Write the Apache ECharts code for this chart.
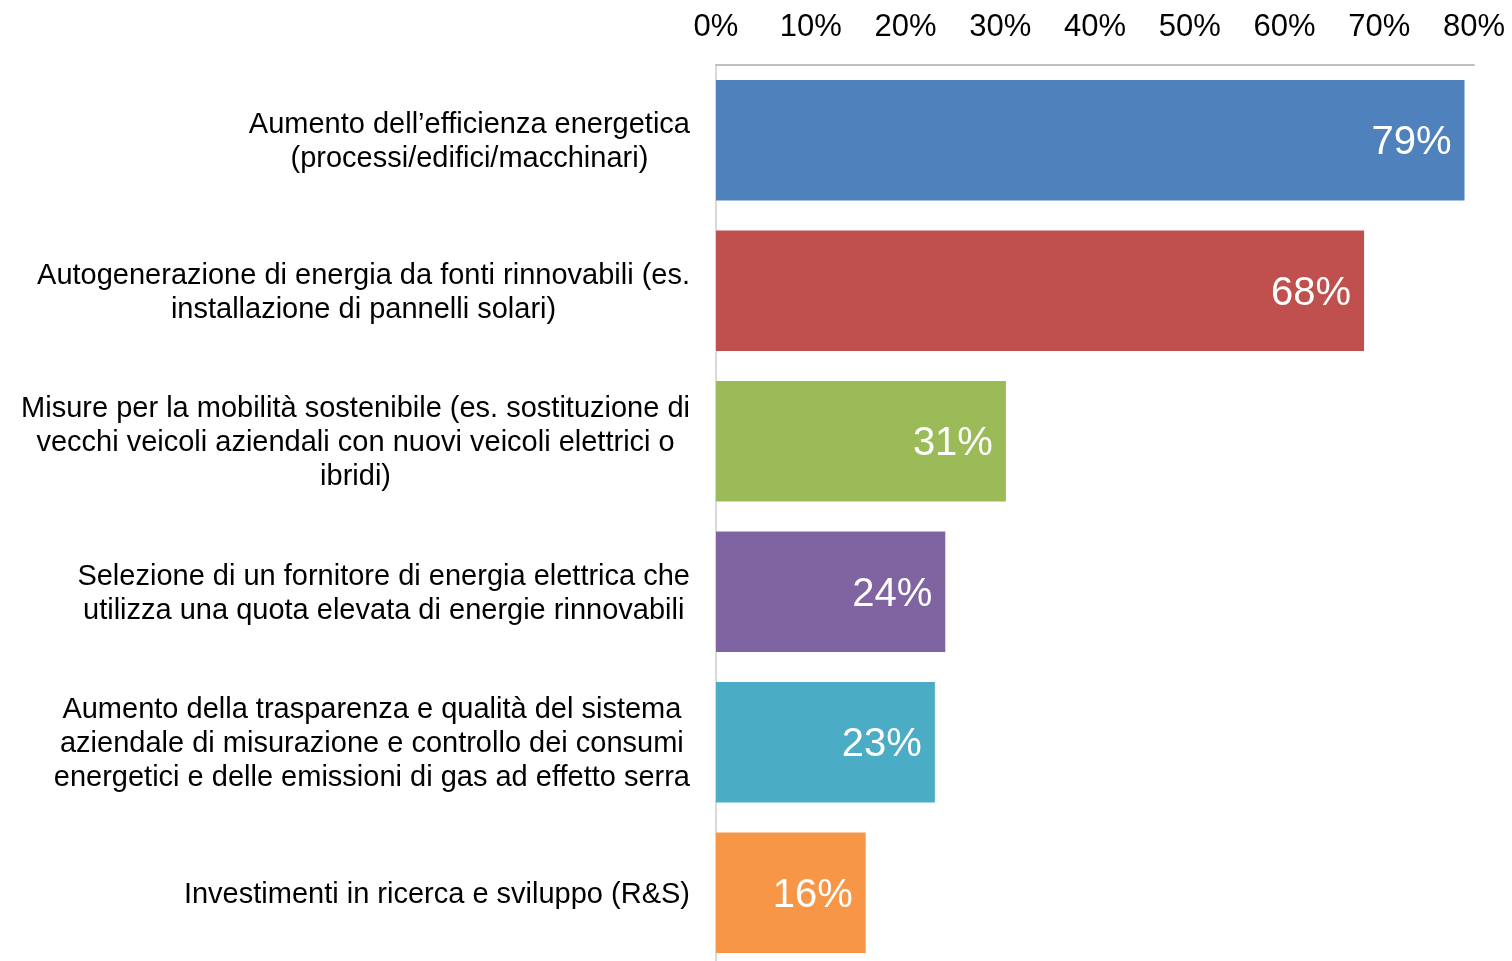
<!DOCTYPE html>
<html lang="it">
<head>
    <meta charset="UTF-8">
    <title>Interventi energetici</title>
    <script src="https://cdn.jsdelivr.net/npm/echarts@6/dist/echarts.min.js"></script>
    <style>
        html, body { margin: 0; padding: 0; background: #fff; overflow: hidden; }
        #main { width: 1512px; height: 975px; }
    </style>
</head>
<body>
<div id="main"></div>
<script>
    // categorie (dall'alto in basso)
    var categories = [
        'Aumento dell\u2019efficienza energetica\n(processi/edifici/macchinari)',
        'Autogenerazione di energia da fonti rinnovabili (es.\ninstallazione di pannelli solari)',
        'Misure per la mobilità sostenibile (es. sostituzione di\nvecchi veicoli aziendali con nuovi veicoli elettrici o\nibridi)',
        'Selezione di un fornitore di energia elettrica che\nutilizza una quota elevata di energie rinnovabili',
        'Aumento della trasparenza e qualità del sistema\naziendale di misurazione e controllo dei consumi\nenergetici e delle emissioni di gas ad effetto serra',
        'Investimenti in ricerca e sviluppo (R&S)'
    ];
    // valori in %
    var values = [79, 68.4, 30.6, 24.2, 23.1, 15.8];
    var xTicks = [0, 10, 20, 30, 40, 50, 60, 70, 80];

    var colors = ['#4F81BD', '#C0504D', '#9BBB59', '#8064A2', '#4BACC6', '#F79646'];
    var font = '"Liberation Sans", Arial, sans-serif';

    var barData = values.map(function (v, i) {
        return { value: v, itemStyle: { color: colors[i] } };
    });

    var myChart = echarts.init(document.getElementById('main'));
    var option = {
        animation: false,
        grid: {
            left: 716,
            right: 38,
            top: 65,
            bottom: 7,
            containLabel: false
        },
        xAxis: {
            type: 'value',
            position: 'top',
            min: xTicks[0],
            max: xTicks[xTicks.length - 1],
            interval: 10,
            axisLine: { show: true, lineStyle: { color: '#BFBFBF', width: 2 } },
            axisTick: { show: false },
            splitLine: { show: false },
            axisLabel: {
                margin: 22,
                fontFamily: font,
                fontSize: 31,
                color: '#000',
                formatter: '{value}%'
            }
        },
        yAxis: {
            type: 'category',
            inverse: true,
            data: categories,
            axisLine: { show: true, lineStyle: { color: '#D9D9D9', width: 2 } },
            axisTick: { show: false },
            axisLabel: {
                margin: 26,
                align: 'right',
                formatter: function (v) {
                    return v.split('\n').map(function (s) { return '{c|' + s + '}'; }).join('\n');
                },
                rich: {
                    c: {
                        align: 'center',
                        fontFamily: font,
                        fontSize: 29,
                        lineHeight: 34,
                        padding: [4, 0, 0, 0],
                        color: '#000'
                    }
                }
            }
        },
        series: [{
            type: 'bar',
            data: barData,
            barCategoryGap: '20%',
            label: {
                show: true,
                position: 'insideRight',
                distance: 13,
                offset: [0, 3],
                color: '#fff',
                fontFamily: font,
                fontSize: 40,
                formatter: function (p) { return Math.round(p.value) + '%'; }
            }
        }]
    };
    myChart.setOption(option);
</script>
</body>
</html>
